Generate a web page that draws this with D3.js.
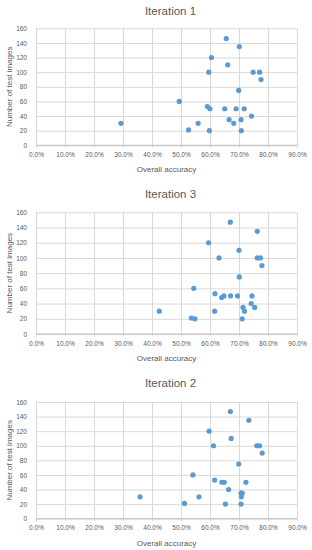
<!DOCTYPE html>
<html>
<head>
<meta charset="utf-8">
<script src="https://cdn.jsdelivr.net/npm/d3@7"></script>
<style>
  body { margin: 0; background: #fff; }
  text { font-family: "Liberation Sans", Arial, sans-serif; fill: #595959; }
  .grid line { stroke: #d9d9d9; stroke-width: 1; }
  .grid path { display: none; }
  .axis path { display: none; }
</style>
</head>
<body>
<svg id="chart" width="312" height="550"></svg>
<script>
// donnees
var xTicks = [0, 0.1, 0.2, 0.3, 0.4, 0.5, 0.6, 0.7, 0.8, 0.9];
var yTicks = [0, 20, 40, 60, 80, 100, 120, 140, 160];

var iter1Acc = [0.293, 0.494, 0.526, 0.559, 0.591, 0.600, 0.596, 0.605, 0.598, 0.656, 0.661, 0.651, 0.666, 0.682, 0.690, 0.701, 0.699, 0.718, 0.707, 0.708, 0.743, 0.749, 0.771, 0.776];
var iter1Count = [30, 60, 21, 30, 53, 50, 100, 120, 20, 146, 110, 50, 35, 30, 50, 135, 75, 50, 35, 20, 40, 100, 100, 90];

var iter3Acc = [0.425, 0.544, 0.536, 0.548, 0.595, 0.631, 0.616, 0.617, 0.640, 0.648, 0.670, 0.671, 0.695, 0.700, 0.701, 0.711, 0.714, 0.719, 0.742, 0.745, 0.754, 0.763, 0.763, 0.774, 0.779];
var iter3Count = [30, 60, 21, 20, 120, 100, 30, 53, 48, 50, 147, 50, 50, 110, 75, 20, 35, 30, 40, 50, 35, 135, 100, 100, 90];

var iter2Acc = [0.359, 0.512, 0.541, 0.562, 0.597, 0.612, 0.616, 0.641, 0.649, 0.653, 0.664, 0.670, 0.673, 0.699, 0.707, 0.711, 0.708, 0.707, 0.724, 0.734, 0.761, 0.771, 0.780];
var iter2Count = [30, 21, 60, 30, 120, 100, 53, 50, 50, 20, 40, 147, 110, 75, 35, 35, 30, 20, 50, 135, 100, 100, 90];

var panels = [
  {title: "Iteration 1", acc: iter1Acc, count: iter1Count, top: 28.3, bottom: 145.3, titleY: 11},
  {title: "Iteration 3", acc: iter3Acc, count: iter3Count, top: 212.3, bottom: 334, titleY: 194},
  {title: "Iteration 2", acc: iter2Acc, count: iter2Count, top: 402, bottom: 518.7, titleY: 383.3}
];

var svg = d3.select("#chart");
var left = 36, right = 297;

var x = d3.scaleLinear().domain([0, 0.9]).range([left, right]);

panels.forEach(p => {
  var y = d3.scaleLinear().domain([0, 160]).range([p.bottom, p.top]);
  var g = svg.append("g");

  // titre
  g.append("text")
    .attr("x", (left + right) / 2 + 4)
    .attr("y", p.titleY)
    .attr("dy", "0.35em")
    .attr("text-anchor", "middle")
    .style("font-size", "11.5px")
    .text(p.title);

  // grille horizontale
  g.append("g")
    .attr("class", "grid")
    .attr("transform", "translate(" + left + ",0)")
    .call(d3.axisLeft(y).tickValues(yTicks).tickSize(-(right - left)).tickFormat(""));

  // grille verticale
  g.append("g")
    .attr("class", "grid")
    .attr("transform", "translate(0," + p.top + ")")
    .call(d3.axisBottom(x).tickValues(xTicks).tickSize(p.bottom - p.top + 2.5).tickFormat(""));

  // axe x
  g.append("g")
    .attr("class", "axis")
    .attr("transform", "translate(0," + p.bottom + ")")
    .call(d3.axisBottom(x).tickValues(xTicks).tickSize(0).tickPadding(7).tickFormat(d3.format(".1%")))
    .call(a => a.selectAll("text").style("font-size", "6.5px").style("fill", "#595959"));

  // axe y
  g.append("g")
    .attr("class", "axis")
    .attr("transform", "translate(" + left + ",0)")
    .call(d3.axisLeft(y).tickValues(yTicks).tickSize(0).tickPadding(9))
    .call(a => a.selectAll("text").style("font-size", "6.5px").style("fill", "#595959"));

  // ligne du zero
  g.append("line")
    .attr("x1", left).attr("x2", right)
    .attr("y1", y(0)).attr("y2", y(0))
    .attr("stroke", "#bfbfbf");

  // titres des axes
  g.append("text")
    .attr("x", (left + right) / 2)
    .attr("y", p.bottom + 24)
    .attr("dy", "0.35em")
    .attr("text-anchor", "middle")
    .style("font-size", "8px")
    .text("Overall accuracy");

  g.append("text")
    .attr("transform", "translate(9," + ((p.top + p.bottom) / 2) + ") rotate(-90)")
    .attr("dy", "0.35em")
    .attr("text-anchor", "middle")
    .style("font-size", "8px")
    .text("Number of test images");

  // points
  g.selectAll("circle")
    .data(p.acc.map((a, i) => ({acc: a, count: p.count[i]})))
    .join("circle")
    .attr("cx", d => x(d.acc))
    .attr("cy", d => y(d.count))
    .attr("r", 2.6)
    .attr("fill", "#5b9bd5");
});
</script>
</body>
</html>
